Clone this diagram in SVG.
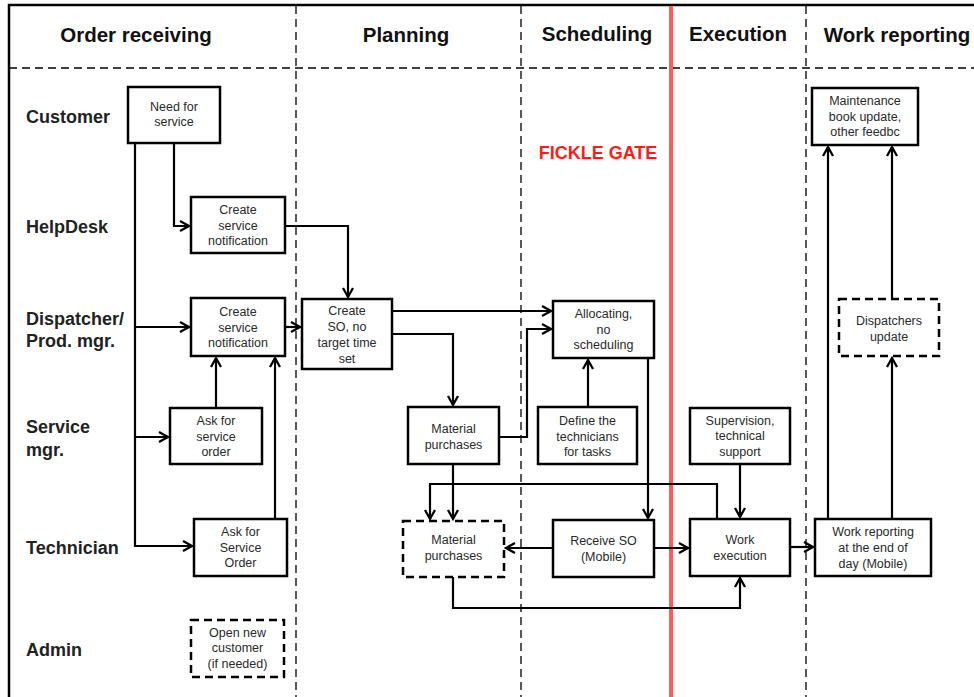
<svg xmlns="http://www.w3.org/2000/svg" width="974" height="697" viewBox="0 0 974 697">
  <style>
    .frame { stroke: #000; stroke-width: 2.5; fill: none; }
    .sep { stroke: #000; stroke-width: 1.3; stroke-dasharray: 8 5; fill: none; }
    .gate { stroke: #ff5b5b; stroke-width: 4; fill: none; }
    .hdr { font-family: "Liberation Sans", Arial, sans-serif; font-weight: bold; font-size: 20.5px; fill: #111; text-anchor: middle; }
    .lane { font-family: "Liberation Sans", Arial, sans-serif; font-weight: bold; font-size: 18px; fill: #222; }
    .box { fill: #fff; stroke: #000; stroke-width: 2.5; }
    .box.opt { stroke-dasharray: 8 5; }
    .lbl { font-family: "Liberation Sans", Arial, sans-serif; font-size: 12.5px; fill: #2a2a2a; text-anchor: middle; }
    .flow { fill: none; stroke: #000; stroke-width: 2.2; marker-end: url(#arrow); }
    .note { font-family: "Liberation Sans", Arial, sans-serif; font-weight: bold; font-size: 18px; fill: #ff1a1a; text-anchor: middle; }
  </style>
  <defs>
    <marker id="arrow" markerUnits="userSpaceOnUse" markerWidth="14" markerHeight="14" refX="11" refY="7" orient="auto">
      <path d="M2,2 L11,7 L2,12" fill="none" stroke="#000" stroke-width="2.3"/>
    </marker>
  </defs>

  <rect width="974" height="697" fill="#fff"/>

  <!-- swimlane frame -->
  <g id="frame">
    <path class="frame" d="M9,697 V5 H974"/>
    <path class="sep" d="M9,68 H974"/>
    <path class="sep" d="M296,6 V697"/>
    <path class="sep" d="M521,6 V697"/>
    <path class="sep" d="M806,6 V697"/>
    <path class="gate" d="M671,6 V697"/>
  </g>

  <!-- phase headers -->
  <g id="headers">
    <text class="hdr" x="136" y="42">Order receiving</text>
    <text class="hdr" x="406" y="42">Planning</text>
    <text class="hdr" x="597" y="41">Scheduling</text>
    <text class="hdr" x="738" y="41">Execution</text>
    <text class="hdr" x="897" y="42">Work reporting</text>
  </g>

  <!-- role labels -->
  <g id="roles">
    <text class="lane" x="26" y="123">Customer</text>
    <text class="lane" x="26" y="233">HelpDesk</text>
    <text class="lane" x="26" y="325">Dispatcher/</text>
    <text class="lane" x="26" y="347">Prod. mgr.</text>
    <text class="lane" x="26" y="433">Service</text>
    <text class="lane" x="26" y="456">mgr.</text>
    <text class="lane" x="26" y="554">Technician</text>
    <text class="lane" x="26" y="656">Admin</text>
  </g>

  <text class="note" x="598" y="159">FICKLE GATE</text>

  <!-- connectors -->
  <g id="connectors">
    <path class="flow" d="M135,143 V546 H192"/>
    <path class="flow" d="M135,327 H189"/>
    <path class="flow" d="M135,437 H168"/>
    <path class="flow" d="M174,143 V226 H189"/>
    <path class="flow" d="M285,226 H348 V297"/>
    <path class="flow" d="M285,327 H300"/>
    <path class="flow" d="M216,408 V358"/>
    <path class="flow" d="M275,519 V358"/>
    <path class="flow" d="M392,311 H551"/>
    <path class="flow" d="M392,334 H453 V405"/>
    <path class="flow" d="M499,437 H527 V329 H551"/>
    <path class="flow" d="M588,407 V360"/>
    <path class="flow" d="M648,358 V518"/>
    <path class="flow" d="M453,464 V519"/>
    <path class="flow" d="M717,519 V484 H430 V519"/>
    <path class="flow" d="M553,548 H506"/>
    <path class="flow" d="M654,548 H688"/>
    <path class="flow" d="M453,577 V608 H740 V578"/>
    <path class="flow" d="M740,464 V517"/>
    <path class="flow" d="M790,547 H813"/>
    <path class="flow" d="M828,519 V147"/>
    <path class="flow" d="M892,519 V358"/>
    <path class="flow" d="M892,299 V147"/>
  </g>

  <!-- process steps -->
  <g id="need-for-service">
    <rect class="box" x="128" y="87" width="92" height="56"/>
    <text class="lbl" x="174" y="111">Need for</text>
    <text class="lbl" x="174" y="126">service</text>
  </g>
  <g id="helpdesk-notification">
    <rect class="box" x="191" y="197" width="94" height="56"/>
    <text class="lbl" x="238" y="214">Create</text>
    <text class="lbl" x="238" y="230">service</text>
    <text class="lbl" x="238" y="245">notification</text>
  </g>
  <g id="dispatcher-notification">
    <rect class="box" x="191" y="298" width="94" height="58"/>
    <text class="lbl" x="238" y="316">Create</text>
    <text class="lbl" x="238" y="332">service</text>
    <text class="lbl" x="238" y="347">notification</text>
  </g>
  <g id="create-so">
    <rect class="box" x="302" y="299" width="90" height="70"/>
    <text class="lbl" x="347" y="315">Create</text>
    <text class="lbl" x="347" y="331">SO, no</text>
    <text class="lbl" x="347" y="347">target time</text>
    <text class="lbl" x="347" y="363">set</text>
  </g>
  <g id="allocating">
    <rect class="box" x="553" y="301" width="101" height="57"/>
    <text class="lbl" x="603.5" y="318">Allocating,</text>
    <text class="lbl" x="603.5" y="334">no</text>
    <text class="lbl" x="603.5" y="349">scheduling</text>
  </g>
  <g id="ask-service-order-mgr">
    <rect class="box" x="170" y="408" width="92" height="56"/>
    <text class="lbl" x="216" y="425">Ask for</text>
    <text class="lbl" x="216" y="441">service</text>
    <text class="lbl" x="216" y="456">order</text>
  </g>
  <g id="material-purchases">
    <rect class="box" x="408" y="407" width="91" height="57"/>
    <text class="lbl" x="453.5" y="433">Material</text>
    <text class="lbl" x="453.5" y="449">purchases</text>
  </g>
  <g id="define-technicians">
    <rect class="box" x="538" y="407" width="99" height="57"/>
    <text class="lbl" x="587.5" y="425">Define the</text>
    <text class="lbl" x="587.5" y="441">technicians</text>
    <text class="lbl" x="587.5" y="456">for tasks</text>
  </g>
  <g id="supervision">
    <rect class="box" x="690" y="408" width="100" height="56"/>
    <text class="lbl" x="740" y="425">Supervision,</text>
    <text class="lbl" x="740" y="440">technical</text>
    <text class="lbl" x="740" y="456">support</text>
  </g>
  <g id="ask-service-order-tech">
    <rect class="box" x="194" y="519" width="93" height="57"/>
    <text class="lbl" x="240.5" y="536">Ask for</text>
    <text class="lbl" x="240.5" y="552">Service</text>
    <text class="lbl" x="240.5" y="567">Order</text>
  </g>
  <g id="material-purchases-tech">
    <rect class="box opt" x="403" y="521" width="101" height="56"/>
    <text class="lbl" x="453.5" y="544">Material</text>
    <text class="lbl" x="453.5" y="560">purchases</text>
  </g>
  <g id="receive-so">
    <rect class="box" x="553" y="520" width="101" height="57"/>
    <text class="lbl" x="603.5" y="545">Receive SO</text>
    <text class="lbl" x="603.5" y="561">(Mobile)</text>
  </g>
  <g id="work-execution">
    <rect class="box" x="690" y="519" width="100" height="57"/>
    <text class="lbl" x="740" y="544">Work</text>
    <text class="lbl" x="740" y="560">execution</text>
  </g>
  <g id="work-reporting">
    <rect class="box" x="815" y="519" width="116" height="57"/>
    <text class="lbl" x="873" y="536">Work reporting</text>
    <text class="lbl" x="873" y="552">at the end of</text>
    <text class="lbl" x="873" y="568">day (Mobile)</text>
  </g>
  <g id="maintenance-book">
    <rect class="box" x="812" y="88" width="106" height="57"/>
    <text class="lbl" x="865" y="105">Maintenance</text>
    <text class="lbl" x="865" y="121">book update,</text>
    <text class="lbl" x="865" y="136">other feedbc</text>
  </g>
  <g id="dispatchers-update">
    <rect class="box opt" x="839" y="299" width="100" height="57"/>
    <text class="lbl" x="889" y="325">Dispatchers</text>
    <text class="lbl" x="889" y="341">update</text>
  </g>
  <g id="open-new-customer">
    <rect class="box opt" x="191" y="620" width="93" height="57"/>
    <text class="lbl" x="237.5" y="637">Open new</text>
    <text class="lbl" x="237.5" y="652">customer</text>
    <text class="lbl" x="237.5" y="668">(if needed)</text>
  </g>
</svg>
